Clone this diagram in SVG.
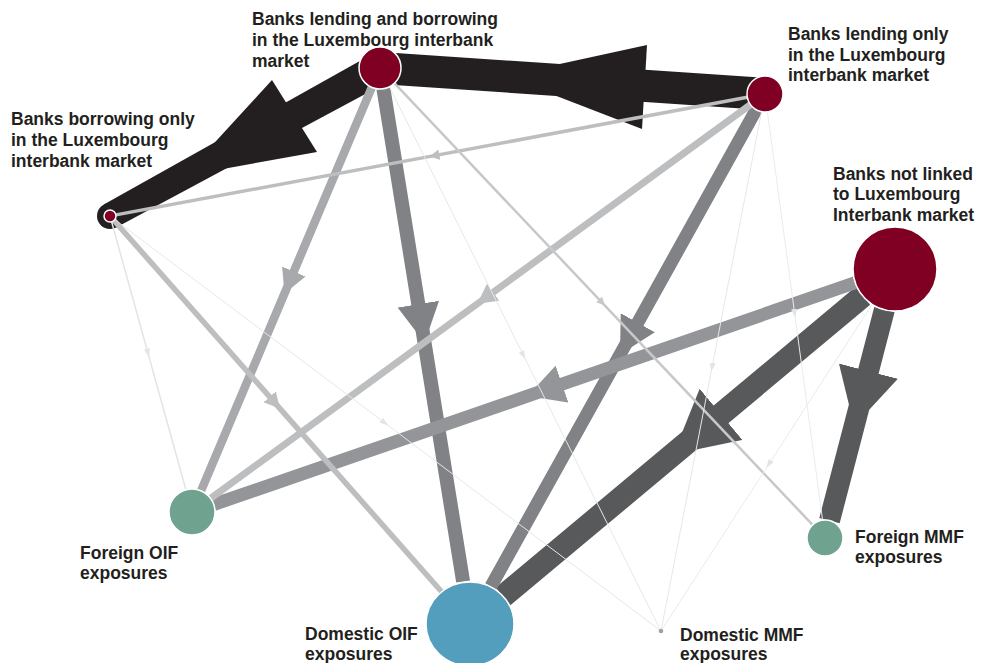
<svg xmlns="http://www.w3.org/2000/svg" width="982" height="663" viewBox="0 0 982 663">
<style>
.lbl{font-family:"Liberation Sans",Arial,sans-serif;font-weight:bold;font-size:17.5px;fill:#231f20}
.node{stroke:#ffffff;stroke-width:1.5}
.bank{fill:#800024}
.green{fill:#6fa38f}
.blue{fill:#539dbd}
.e{fill:none;stroke-linecap:butt}
.blk{fill:#231f20}
</style>
<defs>
<marker id="m58" viewBox="0 0 10 10" refX="8" refY="5" markerWidth="2.7" markerHeight="2.9" orient="auto" preserveAspectRatio="none"><path d="M0,0 L10,5 L0,10z" fill="#58595b"/></marker>
<marker id="m80" viewBox="0 0 10 10" refX="8" refY="5" markerWidth="2.8" markerHeight="3" orient="auto" preserveAspectRatio="none"><path d="M0,0 L10,5 L0,10z" fill="#808285"/></marker>
<marker id="m93" viewBox="0 0 10 10" refX="8" refY="5" markerWidth="2.8" markerHeight="3" orient="auto" preserveAspectRatio="none"><path d="M0,0 L10,5 L0,10z" fill="#939598"/></marker>
<marker id="ma7" viewBox="0 0 10 10" refX="8" refY="5" markerWidth="2.8" markerHeight="3" orient="auto" preserveAspectRatio="none"><path d="M0,0 L10,5 L0,10z" fill="#a7a9ac"/></marker>
<marker id="mbc" viewBox="0 0 10 10" refX="8" refY="5" markerWidth="2.8" markerHeight="3" orient="auto" preserveAspectRatio="none"><path d="M0,0 L10,5 L0,10z" fill="#bcbec0"/></marker>
<marker id="mc7" viewBox="0 0 10 10" refX="8" refY="5" markerWidth="3.2" markerHeight="3.4" orient="auto" preserveAspectRatio="none"><path d="M0,0 L10,5 L0,10z" fill="#c7c8ca"/></marker>
<marker id="mth" viewBox="0 0 10 10" refX="8" refY="5" markerWidth="9" markerHeight="6" markerUnits="userSpaceOnUse" orient="auto" preserveAspectRatio="none"><path d="M0,0 L10,5 L0,10z" fill="#e3e4e5"/></marker>
</defs>

<g id="connectors">
  <!-- black interbank flows -->
  <g id="edge-LB-BO">
    <polygon class="blk" points="372.3,53.9 103.8,204.6 116.2,227.4 387.7,82.1"/>
    <circle class="blk" cx="110" cy="216" r="13"/>
    <polygon class="blk" points="272,80 317,152 184,176"/>
  </g>
  <g id="edge-LO-LB">
    <polygon class="blk" points="766.1,78 381.1,52 378.9,84 763.9,110"/>
    <polygon class="blk" points="647,45 642,129 505,76"/>
  </g>
  <!-- dark -->
  <path id="edge-NL-DOIF" class="e" d="M862.8,295.9 L682.9,446.2 L503,596.4" stroke="#58595b" stroke-width="23" marker-mid="url(#m58)"/>
  <path id="edge-NL-FMMF" class="e" d="M884.4,309.6 L857,415.1 L829.5,520.6" stroke="#58595b" stroke-width="21" marker-mid="url(#m58)"/>
  <!-- mid gray -->
  <path id="edge-LB-DOIF" class="e" d="M383.4,88.7 L423.3,335.1 L463.1,581.5" stroke="#808285" stroke-width="14" marker-mid="url(#m80)"/>
  <path id="edge-LO-DOIF" class="e" d="M756.2,109.7 L623.6,348.1 L490.9,586.4" stroke="#808285" stroke-width="13" marker-mid="url(#m80)"/>
  <path id="edge-NL-FOIF" class="e" d="M855.3,282.7 L534.5,393.6 L213.7,504.5" stroke="#939598" stroke-width="13" marker-mid="url(#m93)"/>
  <path id="edge-LB-FOIF" class="e" d="M371.8,87.3 L286.4,289 L201,490.8" stroke="#a7a9ac" stroke-width="8.5" marker-mid="url(#ma7)"/>
  <path id="edge-LO-FOIF" class="e" d="M750.5,104.6 L480.5,301.5 L210.6,498.4" stroke="#bcbec0" stroke-width="7" marker-mid="url(#mbc)"/>
  <path id="edge-BO-DOIF" class="e" d="M114,220.5 L277.8,406.1 L441.6,591.8" stroke="#bcbec0" stroke-width="5.5" marker-mid="url(#mbc)"/>
  <path id="edge-LO-BO" class="e" d="M747.3,97.3 L431.6,156.1 L115.9,214.9" stroke="#bcbec0" stroke-width="3.5" marker-mid="url(#mbc)"/>
  <path id="edge-LB-FMMF" class="e" d="M394.4,83.2 L603.5,304.1 L812.6,524.9" stroke="#c7c8ca" stroke-width="2.5" marker-mid="url(#mc7)"/>
  <!-- thin -->
  <path id="edge-BO-FOIF" class="e" d="M111.6,221.8 L148.7,355.8 L185.9,489.8" stroke="#e3e4e5" stroke-width="1.5" marker-mid="url(#mth)"/>
  <path id="edge-BO-DMMF" class="e" d="M114.8,219.6 L386.9,424.5 L659,629.5" stroke="#e6e7e8" stroke-width="1" marker-mid="url(#mth)"/>
  <path id="edge-LB-DMMF" class="e" d="M389.4,86.8 L524.6,357.8 L659.9,628.8" stroke="#e6e7e8" stroke-width="1" marker-mid="url(#mth)"/>
  <path id="edge-LO-DMMF" class="e" d="M761.6,111.7 L711.5,370.1 L661.5,628.5" stroke="#e6e7e8" stroke-width="1" marker-mid="url(#mth)"/>
  <path id="edge-LO-FMMF" class="e" d="M767.4,111.8 L795,316 L822.6,520.2" stroke="#ebebec" stroke-width="1" marker-mid="url(#mth)"/>
  <path id="edge-NL-DMMF" class="e" d="M872.2,304.3 L767.3,466.6 L662.4,628.9" stroke="#ebebec" stroke-width="1" marker-mid="url(#mth)"/>
</g>

<g id="node-lending-borrowing">
  <circle class="node bank" cx="380" cy="68" r="21"/>
  <text class="lbl"><tspan x="252" y="25">Banks lending and borrowing</tspan><tspan x="252" y="46">in the Luxembourg interbank</tspan><tspan x="252" y="67">market</tspan></text>
</g>
<g id="node-lending-only">
  <circle class="node bank" cx="765" cy="94" r="18"/>
  <text class="lbl"><tspan x="788" y="40">Banks lending only</tspan><tspan x="788" y="61">in the Luxembourg</tspan><tspan x="788" y="81">interbank market</tspan></text>
</g>
<g id="node-borrowing-only">
  <circle class="node bank" cx="110" cy="216" r="6"/>
  <text class="lbl"><tspan x="11" y="125">Banks borrowing only</tspan><tspan x="11" y="146">in the Luxembourg</tspan><tspan x="11" y="167">interbank market</tspan></text>
</g>
<g id="node-not-linked">
  <circle class="node bank" cx="895" cy="269" r="42"/>
  <text class="lbl"><tspan x="833" y="180">Banks not linked</tspan><tspan x="833" y="200">to Luxembourg</tspan><tspan x="833" y="221">Interbank market</tspan></text>
</g>
<g id="node-foreign-oif">
  <circle class="node green" cx="192" cy="512" r="23"/>
  <text class="lbl"><tspan x="80" y="559">Foreign OIF</tspan><tspan x="80" y="579">exposures</tspan></text>
</g>
<g id="node-domestic-oif">
  <ellipse class="node blue" cx="470" cy="624" rx="44" ry="42"/>
  <text class="lbl"><tspan x="305" y="640">Domestic OIF</tspan><tspan x="305" y="660">exposures</tspan></text>
</g>
<g id="node-foreign-mmf">
  <circle class="node green" cx="825" cy="538" r="18"/>
  <text class="lbl"><tspan x="855" y="543">Foreign MMF</tspan><tspan x="855" y="563">exposures</tspan></text>
</g>
<g id="node-domestic-mmf">
  <circle cx="661" cy="631" r="2.3" fill="#a0a0a0"/>
  <text class="lbl"><tspan x="680" y="641">Domestic MMF</tspan><tspan x="680" y="660">exposures</tspan></text>
</g>
</svg>
